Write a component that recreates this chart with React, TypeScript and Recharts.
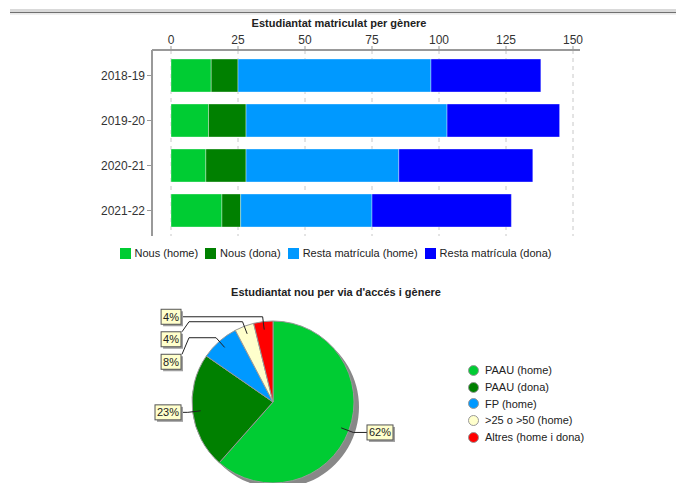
import React from 'react';
import { Bar, BarChart, CartesianGrid, Cell, Pie, PieChart, XAxis, YAxis } from 'recharts';

const years = ['2018-19', '2019-20', '2020-21', '2021-22'];
const nousHome = [15, 14, 13, 19];
const nousDona = [10, 14, 15, 7];
const restaHome = [72, 75, 57, 49];
const restaDona = [41, 42, 50, 52];
const xTicks = [0, 25, 50, 75, 100, 125, 150];

const barSeries = [
  { key: 'nousHome', name: 'Nous (home)', color: '#00cc33' },
  { key: 'nousDona', name: 'Nous (dona)', color: '#008000' },
  { key: 'restaHome', name: 'Resta matrícula (home)', color: '#0099ff' },
  { key: 'restaDona', name: 'Resta matrícula (dona)', color: '#0000ff' },
];

const accessLabels = ['PAAU (home)', 'PAAU (dona)', 'FP (home)', '>25 o >50 (home)', 'Altres (home i dona)'];
const accessValues = [16, 6, 2, 1, 1];
const accessColors = ['#00cc33', '#008000', '#0099ff', '#ffffcc', '#ff0000'];

const FONT = '"Liberation Sans", Arial, sans-serif';
const RAD = Math.PI / 180;

const barData = years.map((year, i) => ({
  year,
  nousHome: nousHome[i],
  nousDona: nousDona[i],
  restaHome: restaHome[i],
  restaDona: restaDona[i],
}));

const pieData = accessLabels.map((name, i) => ({ name, value: accessValues[i] }));
const pieTotal = accessValues.reduce((a, b) => a + b, 0);

const polar = (cx: number, cy: number, r: number, a: number) => ({
  x: cx + r * Math.cos(-a * RAD),
  y: cy + r * Math.sin(-a * RAD),
});

// spread labels vertically on each side so the boxes don't overlap
function layoutLabels(cx: number, cy: number, R: number) {
  let cum = 0;
  const items = accessValues.map((v, i) => {
    const mid = 90 - (360 * (cum + v / 2)) / pieTotal;
    cum += v;
    const p = polar(cx, cy, R * 1.06, mid);
    return { i, y: p.y, want: p.y, right: Math.cos(mid * RAD) >= 0 };
  });
  [true, false].forEach((side) => {
    const group = items.filter((d) => d.right === side).sort((a, b) => a.want - b.want);
    let prev = -Infinity;
    group.forEach((d) => {
      d.y = Math.max(d.want, prev + 22.5);
      prev = d.y;
    });
  });
  const out: { y: number; right: boolean }[] = [];
  items.forEach((d) => (out[d.i] = { y: d.y, right: d.right }));
  return out;
}

const textW = (s: string) => s.split('').reduce((w, c) => w + (c === '%' ? 9.8 : 6.1), 0);

function PieLabel(props: any) {
  const { cx, cy, midAngle, outerRadius, percent, index } = props;
  const R = outerRadius;
  const lay = layoutLabels(cx, cy, R)[index];
  const anchor = polar(cx, cy, R * 0.9, midAngle);
  const elbow = polar(cx, cy, R * 1.06, midAngle);
  const text = `${Math.round(percent * 100)}%`;
  const boxW = textW(text) + 4;
  const boxH = 15;
  const right = lay.right;
  const boxX = right ? cx + R + 13 : cx - R - 11 - boxW;
  const edgeX = right ? boxX : boxX + boxW;
  let pts: { x: number; y: number }[];
  if (Math.abs(lay.y - elbow.y) < 1) {
    pts = [anchor, elbow, { x: edgeX, y: elbow.y }];
  } else {
    const linkX = right ? cx + R + 3 : cx - R - 3;
    pts = [anchor, elbow, { x: linkX, y: elbow.y }, { x: edgeX + (right ? -1 : 1), y: lay.y - boxH / 2 }];
  }
  return (
    <g>
      <polyline points={pts.map((p) => `${p.x},${p.y}`).join(' ')} fill="none" stroke="#222" strokeWidth={1} />
      <rect x={boxX + 2} y={lay.y - boxH / 2 + 2} width={boxW} height={boxH} fill="#a0a0a0" />
      <rect x={boxX} y={lay.y - boxH / 2} width={boxW} height={boxH} fill="#ffffcc" stroke="#555" strokeWidth={1} />
      <text x={boxX + boxW / 2} y={lay.y + 4} textAnchor="middle" fontSize={11} fontFamily={FONT} fill="#222">
        {text}
      </text>
    </g>
  );
}

export default function App() {
  return (
    <div style={{ position: 'absolute', left: 0, top: 0, width: 676, height: 483, background: '#fff', overflow: 'hidden', fontFamily: FONT }}>
      <div
        style={{
          position: 'absolute',
          left: 10,
          right: 0,
          top: 9,
          height: 6,
          background: 'linear-gradient(to bottom, #d9d9d9 0%, #d9d9d9 45%, #707070 45%, #707070 62%, #e4e4e4 62%, #f3f3f3 100%)',
        }}
      />
      <div style={{ position: 'absolute', left: 0, width: 678, top: 17, textAlign: 'center', fontSize: 11, fontWeight: 'bold', color: '#222' }}>
        Estudiantat matriculat per gènere
      </div>

      <div style={{ position: 'absolute', left: 0, top: 0 }}>
        <BarChart width={676} height={262} data={barData} layout="vertical" margin={{ top: 0, right: 96, bottom: 26, left: 0 }}>
          <CartesianGrid horizontal={false} vertical syncWithTicks strokeDasharray="4 4" stroke="#c8c8c8" />
          <XAxis
            type="number"
            orientation="top"
            domain={[0, 150]}
            ticks={xTicks}
            interval={0}
            height={50}
            padding={{ left: 19, right: 7 }}
            axisLine={{ stroke: '#999', strokeWidth: 2 }}
            tickLine={{ stroke: '#999' }}
            tickSize={4}
            tickMargin={2}
            tick={{ fontSize: 12, fill: '#333', fontFamily: FONT }}
          />
          <YAxis
            type="category"
            dataKey="year"
            width={152}
            padding={{ top: 3, bottom: 3 }}
            axisLine={{ stroke: '#999', strokeWidth: 2 }}
            tickLine={{ stroke: '#999' }}
            tickSize={5}
            tickMargin={2}
            tick={{ fontSize: 12, fill: '#333', fontFamily: FONT }}
          />
          {barSeries.map((s) => (
            <Bar
              key={s.key}
              dataKey={s.key}
              name={s.name}
              stackId="a"
              fill={s.color}
              barSize={33}
              stroke="#ffffff"
              strokeOpacity={0.35}
              isAnimationActive={false}
            />
          ))}
        </BarChart>
      </div>

      <div style={{ position: 'absolute', left: 0, width: 676, top: 247, display: 'flex', justifyContent: 'center', fontSize: 11, color: '#222' }}>
        <div style={{ display: 'flex', alignItems: 'center', marginLeft: 2 }}>
          {barSeries.map((s) => (
            <div key={s.key} style={{ display: 'flex', alignItems: 'center', marginRight: 7 }}>
              <span style={{ width: 11, height: 11, background: s.color, marginRight: 4, display: 'inline-block' }} />
              <span>{s.name}</span>
            </div>
          ))}
        </div>
      </div>

      <div style={{ position: 'absolute', left: 0, width: 672, top: 286, textAlign: 'center', fontSize: 11, fontWeight: 'bold', color: '#222' }}>
        Estudiantat nou per via d'accés i gènere
      </div>

      <div style={{ position: 'absolute', left: 0, top: 270 }}>
        <PieChart width={676} height={213} margin={{ top: 0, right: 0, bottom: 0, left: 0 }}>
          <Pie
            data={[{ name: 'shadow', value: pieTotal }]}
            dataKey="value"
            cx={278}
            cy={137}
            outerRadius={81}
            startAngle={90}
            endAngle={-270}
            fill="#888"
            stroke="none"
            isAnimationActive={false}
          />
          <Pie
            data={pieData}
            dataKey="value"
            nameKey="name"
            cx={273}
            cy={132}
            outerRadius={81}
            startAngle={90}
            endAngle={-270}
            stroke="#999"
            strokeWidth={1}
            labelLine={false}
            label={PieLabel}
            isAnimationActive={false}
          >
            {pieData.map((d, i) => (
              <Cell key={d.name} fill={accessColors[i]} />
            ))}
          </Pie>
        </PieChart>
      </div>

      <div style={{ position: 'absolute', left: 468, top: 362, fontSize: 11, color: '#222' }}>
        {accessLabels.map((name, i) => (
          <div key={name} style={{ display: 'flex', alignItems: 'center', height: 16.7 }}>
            <span
              style={{
                width: 9,
                height: 9,
                borderRadius: '50%',
                background: accessColors[i],
                border: '1px solid #999',
                marginRight: 6,
                display: 'inline-block',
              }}
            />
            <span>{name}</span>
          </div>
        ))}
      </div>
    </div>
  );
}
